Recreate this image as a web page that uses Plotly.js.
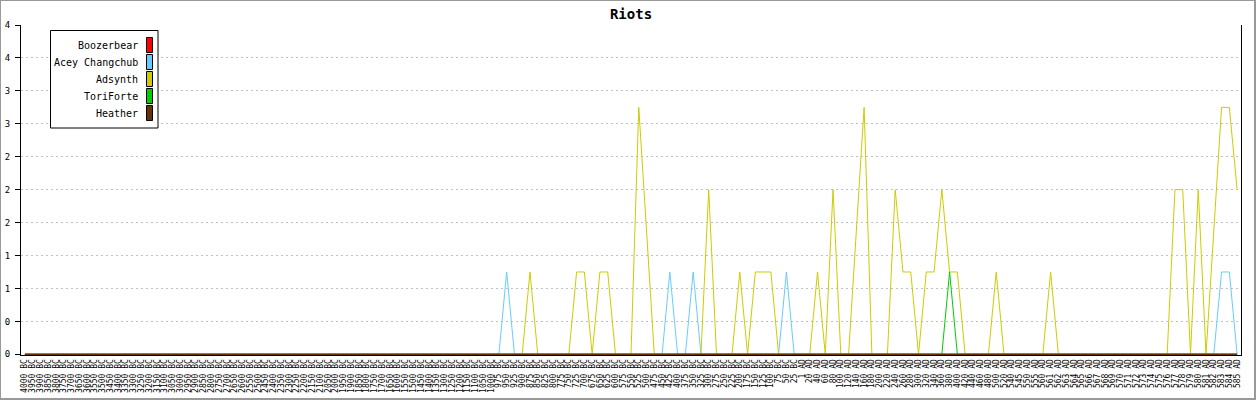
<!DOCTYPE html>
<html>
<head>
<meta charset="utf-8">
<script src="https://cdn.plot.ly/plotly-3.0.1.min.js"></script>
<style>
  html, body { margin: 0; padding: 0; background: #fff; }
  #wrap { position: relative; width: 1256px; height: 400px; }
  #chart { position: absolute; left: 0; top: 0; width: 1256px; height: 400px; }
  #frame { position: absolute; left: 0; top: 0; width: 1256px; height: 400px; box-sizing: border-box;
           border-style: solid; border-color: #999; border-width: 1px 2px 2px 1px; pointer-events: none; }
</style>
</head>
<body>
<div id="wrap"><div id="chart"></div><div id="frame"></div></div>
<script>
// ---- categories (x tick labels) ----
const categories = [
  "4000 BC","3950 BC","3900 BC","3850 BC","3800 BC","3750 BC","3700 BC","3650 BC","3600 BC","3550 BC",
  "3500 BC","3450 BC","3400 BC","3350 BC","3300 BC","3250 BC","3200 BC","3150 BC","3100 BC","3050 BC",
  "3000 BC","2950 BC","2900 BC","2850 BC","2800 BC","2750 BC","2700 BC","2650 BC","2600 BC","2550 BC",
  "2500 BC","2450 BC","2400 BC","2350 BC","2300 BC","2250 BC","2200 BC","2150 BC","2100 BC","2050 BC",
  "2000 BC","1950 BC","1900 BC","1850 BC","1800 BC","1750 BC","1700 BC","1650 BC","1600 BC","1550 BC",
  "1500 BC","1450 BC","1400 BC","1350 BC","1300 BC","1250 BC","1200 BC","1150 BC","1100 BC","1050 BC",
  "1000 BC","975 BC","950 BC","925 BC","900 BC","875 BC","850 BC","825 BC","800 BC","775 BC",
  "750 BC","725 BC","700 BC","675 BC","650 BC","625 BC","600 BC","575 BC","550 BC","525 BC",
  "500 BC","475 BC","450 BC","425 BC","400 BC","375 BC","350 BC","325 BC","300 BC","275 BC",
  "250 BC","225 BC","200 BC","175 BC","150 BC","125 BC","100 BC","75 BC","50 BC","25 BC",
  "1 AD","20 AD","40 AD","60 AD","80 AD","100 AD","120 AD","140 AD","160 AD","180 AD",
  "200 AD","220 AD","240 AD","260 AD","280 AD","300 AD","320 AD","340 AD","360 AD","380 AD",
  "400 AD","420 AD","440 AD","460 AD","480 AD","500 AD","520 AD","540 AD","545 AD","550 AD",
  "555 AD","560 AD","561 AD","562 AD","563 AD","564 AD","565 AD","566 AD","567 AD","568 AD",
  "569 AD","570 AD","571 AD","572 AD","573 AD","574 AD","575 AD","576 AD","577 AD","578 AD",
  "579 AD","580 AD","581 AD","582 AD","583 AD","584 AD","585 AD"
];

// ---- series ----
const seriesNames = ["Boozerbear", "Acey Changchub", "Adsynth", "ToriForte", "Heather"];
const seriesColors = ["#ff0000", "#66ccff", "#cccc00", "#00cc00", "#663300"];

const boozerbear = [
  0,0,0,0,0,0,0,0,0,0, 0,0,0,0,0,0,0,0,0,0, 0,0,0,0,0,0,0,0,0,0, 0,0,0,0,0,0,0,0,0,0,
  0,0,0,0,0,0,0,0,0,0, 0,0,0,0,0,0,0,0,0,0, 0,0,0,0,0,0,0,0,0,0, 0,0,0,0,0,0,0,0,0,0,
  0,0,0,0,0,0,0,0,0,0, 0,0,0,0,0,0,0,0,0,0, 0,0,0,0,0,0,0,0,0,0, 0,0,0,0,0,0,0,0,0,0,
  0,0,0,0,0,0,0,0,0,0, 0,0,0,0,0,0,0,0,0,0, 0,0,0,0,0,0,0,0,0,0, 0,0,0,0,0,0,0
];
const aceyChangchub = [
  0,0,0,0,0,0,0,0,0,0, 0,0,0,0,0,0,0,0,0,0, 0,0,0,0,0,0,0,0,0,0, 0,0,0,0,0,0,0,0,0,0,
  0,0,0,0,0,0,0,0,0,0, 0,0,0,0,0,0,0,0,0,0, 0,0,1,0,0,0,0,0,0,0, 0,0,0,0,0,0,0,0,0,0,
  0,0,0,1,0,0,1,0,0,0, 0,0,0,0,0,0,0,0,1,0, 0,0,0,0,0,0,0,0,0,0, 0,0,0,0,0,0,0,0,0,0,
  0,0,0,0,0,0,0,0,0,0, 0,0,0,0,0,0,0,0,0,0, 0,0,0,0,0,0,0,0,0,0, 0,0,0,0,1,1,0
];
const adsynth = [
  0,0,0,0,0,0,0,0,0,0, 0,0,0,0,0,0,0,0,0,0, 0,0,0,0,0,0,0,0,0,0, 0,0,0,0,0,0,0,0,0,0,
  0,0,0,0,0,0,0,0,0,0, 0,0,0,0,0,0,0,0,0,0, 0,0,0,0,0,1,0,0,0,0, 0,1,1,0,1,1,0,0,0,3,
  1.5,0,0,0,0,0,0,0,2,0, 0,0,1,0,1,1,1,0,0,0, 0,0,1,0,2,0,0,1.5,3,0, 0,0,2,1,1,0,1,1,2,1,
  1,0,0,0,0,1,0,0,0,0, 0,0,1,0,0,0,0,0,0,0, 0,0,0,0,0,0,0,0,2,2, 0,2,0,1.5,3,3,2
];
const toriForte = [
  0,0,0,0,0,0,0,0,0,0, 0,0,0,0,0,0,0,0,0,0, 0,0,0,0,0,0,0,0,0,0, 0,0,0,0,0,0,0,0,0,0,
  0,0,0,0,0,0,0,0,0,0, 0,0,0,0,0,0,0,0,0,0, 0,0,0,0,0,0,0,0,0,0, 0,0,0,0,0,0,0,0,0,0,
  0,0,0,0,0,0,0,0,0,0, 0,0,0,0,0,0,0,0,0,0, 0,0,0,0,0,0,0,0,0,0, 0,0,0,0,0,0,0,0,0,1,
  0,0,0,0,0,0,0,0,0,0, 0,0,0,0,0,0,0,0,0,0, 0,0,0,0,0,0,0,0,0,0, 0,0,0,0,0,0,0
];
const heather = [
  0,0,0,0,0,0,0,0,0,0, 0,0,0,0,0,0,0,0,0,0, 0,0,0,0,0,0,0,0,0,0, 0,0,0,0,0,0,0,0,0,0,
  0,0,0,0,0,0,0,0,0,0, 0,0,0,0,0,0,0,0,0,0, 0,0,0,0,0,0,0,0,0,0, 0,0,0,0,0,0,0,0,0,0,
  0,0,0,0,0,0,0,0,0,0, 0,0,0,0,0,0,0,0,0,0, 0,0,0,0,0,0,0,0,0,0, 0,0,0,0,0,0,0,0,0,0,
  0,0,0,0,0,0,0,0,0,0, 0,0,0,0,0,0,0,0,0,0, 0,0,0,0,0,0,0,0,0,0, 0,0,0,0,0,0,0
];
const seriesValues = [boozerbear, aceyChangchub, adsynth, toriForte, heather];

// ---- y tick labels ----
const yTickVals = [0, 0.4, 0.8, 1.2, 1.6, 2.0, 2.4, 2.8, 3.2, 3.6, 4.0];
const yTickText = ["0", "0", "1", "1", "2", "2", "2", "3", "3", "4", "4"];

// ---- layout geometry (pixels) ----
const W = 1256, H = 400;
const M = { l: 21, r: 15, t: 25, b: 45 };
const PW = W - M.l - M.r, PH = H - M.t - M.b;
const px2x = p => (p - M.l) / PW;
const px2y = p => (H - M.b - p) / PH;

const mono = "DejaVu Sans Mono, monospace";

const traces = seriesNames.map((name, i) => ({
  type: "scatter",
  mode: "lines",
  name: name,
  x: categories,
  y: seriesValues[i],
  line: { color: seriesColors[i], width: i === seriesNames.length - 1 ? 1.5 : 1 },
  hoverinfo: "skip",
  showlegend: false
}));

// custom legend (swatches on the right of right-aligned labels)
const shapes = [{
  type: "rect", xref: "paper", yref: "paper",
  x0: px2x(50.5), x1: px2x(158), y0: px2y(30.5), y1: px2y(128),
  line: { color: "#000", width: 1 }, fillcolor: "#fff", layer: "above"
}];
const annotations = [];
seriesNames.forEach((name, i) => {
  const cy = 45 + 17 * i;
  shapes.push({
    type: "rect", xref: "paper", yref: "paper",
    x0: px2x(146.5), x1: px2x(152.5), y0: px2y(cy - 7.5), y1: px2y(cy + 7.5),
    line: { color: "#000", width: 1 }, fillcolor: seriesColors[i], layer: "above"
  });
  annotations.push({
    xref: "paper", yref: "paper", x: px2x(140), y: px2y(cy + 1),
    xanchor: "right", yanchor: "middle", showarrow: false,
    text: name, font: { family: mono, size: 10, color: "#000" }
  });
});

const yMin = -0.7 / (PH / 4);

const layout = {
  width: W, height: H,
  margin: M,
  paper_bgcolor: "#fff", plot_bgcolor: "#fff",
  title: {
    text: "Riots", x: 0.5, xanchor: "center", xref: "paper",
    y: 1 - 14 / H, yanchor: "middle",
    font: { family: mono, size: 14, color: "#000", weight: "bold" }
  },
  showlegend: false,
  xaxis: {
    type: "category",
    range: [-0.5, categories.length - 0.5],
    tickmode: "linear", tick0: 0, dtick: 1,
    tickangle: -90,
    tickfont: { family: mono, size: 8, color: "#000" },
    showgrid: false, zeroline: false,
    showline: true, linecolor: "#000", linewidth: 1,
    ticks: "", layer: "below traces",
    automargin: false, fixedrange: true
  },
  yaxis: {
    range: [yMin, 4],
    tickmode: "array", tickvals: yTickVals, ticktext: yTickText,
    tickfont: { family: mono, size: 9, color: "#000" },
    ticks: "outside", ticklen: 5, tickcolor: "#000", tickwidth: 1,
    ticklabelstandoff: 3,
    showgrid: true, gridcolor: "#c0c0c0", gridwidth: 1, griddash: "2px,3px",
    zeroline: false,
    showline: true, linecolor: "#000", linewidth: 1, mirror: true,
    automargin: false, fixedrange: true
  },
  shapes: shapes,
  annotations: annotations
};

Plotly.newPlot("chart", traces, layout, { staticPlot: true, displayModeBar: false });
</script>
</body>
</html>
